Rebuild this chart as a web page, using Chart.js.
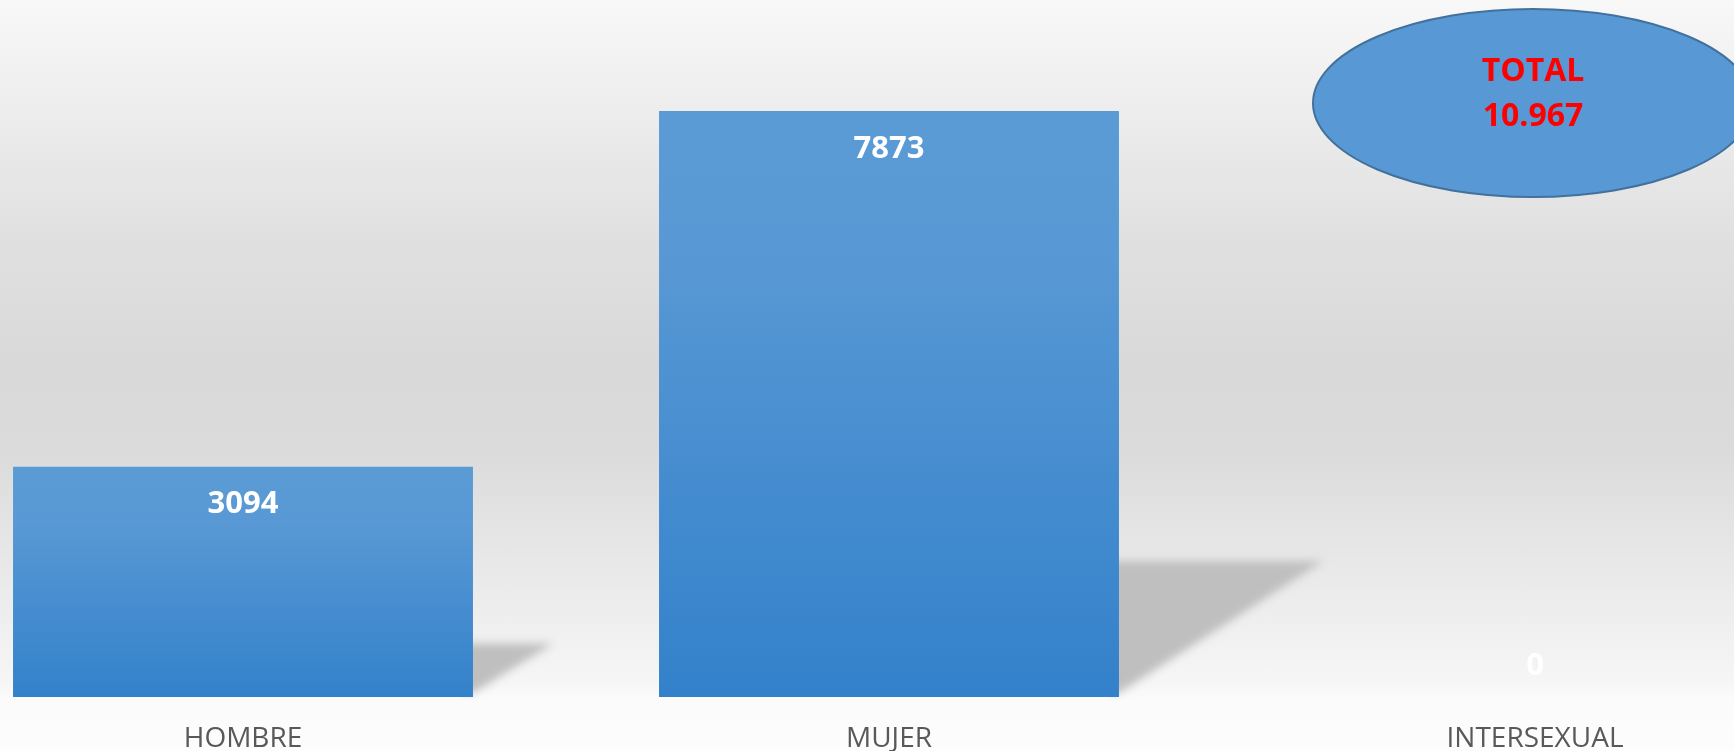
<!DOCTYPE html>
<html>
<head>
<meta charset="utf-8">
<script src="https://cdn.jsdelivr.net/npm/chart.js@4/dist/chart.umd.min.js"></script>
<style>
	html, body {
		margin: 0;
		padding: 0;
		width: 1734px;
		height: 751px;
		overflow: hidden;
		background: linear-gradient(#f8f8f8 0%, #ececec 16%, #e0e0e0 32%, #d9d9d9 48%, #dbdbdb 60%, #e9e9e9 76%, #f6f6f6 91%, #fbfbfb 93%, #fdfdfd 100%);
	}
	#wrap {
		position: absolute;
		left: -80px;
		top: 0;
		width: 1938px;
		height: 751px;
	}
</style>
</head>
<body>
<div id="wrap"><canvas id="bar_chart"></canvas></div>
<script>
var categories = ['HOMBRE', 'MUJER', 'INTERSEXUAL'];
var personas = [3094, 7873, 0];
var yTicks = [0, 9000];

var FONT = '"Open Sans", "Noto Sans", sans-serif';

// Same look as the "1.234" format in the source sheet.
function formatMiles(n) {
	return String(n).replace(/\B(?=(\d{3})+(?!\d))/g, '.');
}

function barGradient(context) {
	var chart = context.chart;
	if (!chart.chartArea || context.dataIndex === undefined) {
		return '#4a8fd2';
	}
	var yScale = chart.scales.y;
	var top = yScale.getPixelForValue(personas[context.dataIndex]);
	var base = yScale.getPixelForValue(0);
	if (base - top < 1) {
		return '#3481cb';
	}
	var g = chart.ctx.createLinearGradient(0, top, 0, base);
	g.addColorStop(0, '#5b9bd5');
	g.addColorStop(0.25, '#5898d4');
	g.addColorStop(1, '#3381cb');
	return g;
}

// Soft floor shadow behind each bar.
var shadowPlugin = {
	id: 'floorShadow',
	beforeDatasetsDraw: function(chart) {
		var ctx = chart.ctx;
		var meta = chart.getDatasetMeta(0);
		ctx.save();
		ctx.filter = 'blur(4px)';
		ctx.fillStyle = '#bfbfbf';
		meta.data.forEach(function(bar) {
			var h = bar.base - bar.y;
			if (h <= 0) return;
			var right = bar.x + bar.width / 2;
			var sh = h * 0.232;
			var sw = sh * 1.5;
			ctx.beginPath();
			ctx.moveTo(right - 10, bar.base - 4);
			ctx.lineTo(right - 10, bar.base - sh);
			ctx.lineTo(right + sw, bar.base - sh);
			ctx.lineTo(right, bar.base - 4);
			ctx.closePath();
			ctx.fill();
		});
		ctx.restore();
	}
};

// White value labels at the inside end of the bars.
var valueLabels = {
	id: 'valueLabels',
	afterDatasetsDraw: function(chart) {
		var ctx = chart.ctx;
		var meta = chart.getDatasetMeta(0);
		ctx.save();
		ctx.font = 'bold 31px ' + FONT;
		ctx.fillStyle = '#ffffff';
		ctx.textAlign = 'center';
		ctx.textBaseline = 'middle';
		meta.data.forEach(function(bar, i) {
			var y = Math.min(bar.y + 38, bar.base - 31);
			ctx.fillText(String(personas[i]), bar.x, y);
		});
		ctx.restore();
	}
};

// The "TOTAL" bubble over the last category.
var totalBubble = {
	id: 'totalBubble',
	afterDraw: function(chart) {
		var ctx = chart.ctx;
		var total = personas.reduce(function(a, b) { return a + b; }, 0);
		var cx = chart.scales.x.getPixelForValue(categories.length - 1) - 2;
		var cy = 103;
		ctx.save();
		ctx.beginPath();
		ctx.ellipse(cx, cy, 220, 94, 0, 0, Math.PI * 2);
		ctx.fillStyle = '#5899d5';
		ctx.fill();
		ctx.lineWidth = 2;
		ctx.strokeStyle = '#41719c';
		ctx.stroke();
		ctx.font = 'bold 32px ' + FONT;
		ctx.fillStyle = '#ff0000';
		ctx.textAlign = 'center';
		ctx.textBaseline = 'middle';
		ctx.fillText('TOTAL', cx, cy - 31);
		ctx.fillText(formatMiles(total), cx, cy + 14);
		ctx.restore();
	}
};

var chart = new Chart(document.getElementById('bar_chart'), {
	type: 'bar',
	data: {
		labels: categories,
		datasets: [{
			label: 'Personas',
			data: personas,
			backgroundColor: barGradient,
			borderWidth: 0,
			categoryPercentage: 1,
			barPercentage: 0.712
		}]
	},
	options: {
		responsive: true,
		maintainAspectRatio: false,
		animation: false,
		layout: {
			padding: { top: 27, left: 0, right: 0, bottom: 0 }
		},
		plugins: {
			legend: { display: false },
			tooltip: { enabled: false }
		},
		scales: {
			x: {
				grid: { display: false, drawTicks: false },
				border: { display: false },
				ticks: {
					color: '#595959',
					padding: 25,
					font: { family: FONT, size: 28 }
				},
				afterFit: function(scale) {
					scale.height = 54;
				}
			},
			y: {
				display: false,
				min: yTicks[0],
				max: yTicks[1]
			}
		}
	},
	plugins: [shadowPlugin, valueLabels, totalBubble]
});
</script>
</body>
</html>
